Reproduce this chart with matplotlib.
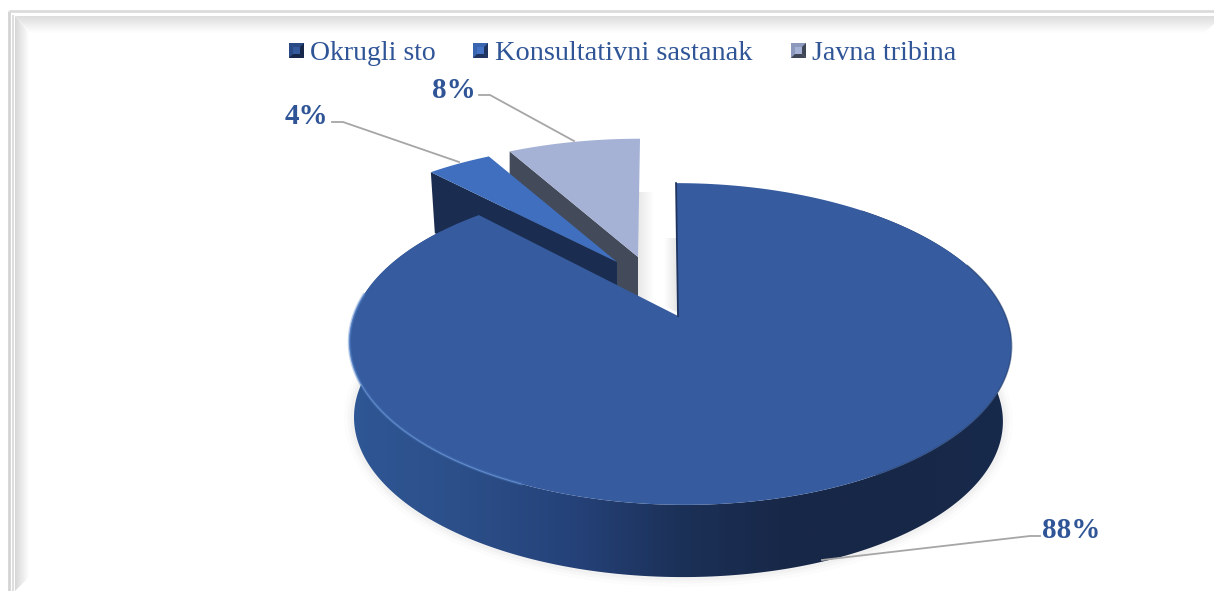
import numpy as np
import matplotlib
import matplotlib.pyplot as plt
from matplotlib.colors import LinearSegmentedColormap
from matplotlib.patches import Polygon, PathPatch, Rectangle
from matplotlib.path import Path

matplotlib.use('Agg')

categories = ['Okrugli sto', 'Konsultativni sastanak', 'Javna tribina']
shares = [88, 4, 8]
labels = ['88%', '4%', '8%']

TEXT = '#2f5597'
MAIN = '#365c9f'
MID = '#3f6fbe'
LIGHT = '#a5b2d6'
FONT = 'Liberation Serif'

# the pie is drawn clockwise from 12 o'clock, seen in perspective
K = 0.174
R_X = 326.0
R_Y = 156.0


def rim(tip, start, end, sx=1.0, sy=1.0, skew=(0.0, 0.0)):
    theta = np.radians(np.linspace(start, end, 300))
    px = np.sin(theta)
    py = -np.cos(theta)
    w = 1 - K * py
    y = sy * R_Y * py / w
    x = sx * R_X * px / w + skew[0] + skew[1] * y
    return np.column_stack((tip[0] + x, tip[1] + y))


def gradient(ax, extent, colors, clip, horizontal=True, zorder=1):
    cmap = LinearSegmentedColormap.from_list('g', colors)
    vals = np.linspace(0, 1, 256)
    vals = vals[None, :] if horizontal else vals[:, None]
    im = ax.imshow(vals, extent=extent, cmap=cmap, aspect='auto',
                   zorder=zorder, interpolation='bilinear', origin='upper')
    im.set_clip_path(Polygon(clip, transform=ax.transData))
    return im


def marker(ax, x, y, color, dark, light):
    s = 15
    ax.add_patch(Rectangle((x, y), s, s, color=color, zorder=6, lw=0))
    ax.add_patch(Polygon([(x, y + s), (x + s, y + s), (x + s - 4, y + s - 4),
                          (x + 4, y + s - 4)], color=dark, zorder=7, lw=0))
    ax.add_patch(Polygon([(x + s, y), (x + s, y + s), (x + s - 4, y + s - 4),
                          (x + s - 4, y + 4)], color=dark, zorder=7, lw=0))
    ax.add_patch(Rectangle((x + 4, y + 4), s - 8, s - 8, color=light,
                           zorder=8, lw=0))


fig = plt.figure(figsize=(12.14, 5.91), dpi=100)
ax = fig.add_axes([0, 0, 1, 1])

# frame
ax.plot([9, 9], [591, 11], color='#d4d4d4', lw=2.0, zorder=1,
        solid_capstyle='butt')
ax.plot([9, 1214], [11, 11], color='#dcdcdc', lw=2.0, zorder=1,
        solid_capstyle='butt')
ax.plot([13, 13], [591, 15], color='#d8d8d8', lw=1.2, zorder=1,
        solid_capstyle='butt')
gradient(ax, (15, 29, 591, 16), ['#d6d6d6', '#ffffff'],
         [(15, 16), (29, 32), (29, 577), (15, 591)])
gradient(ax, (15, 1214, 33, 16), ['#dddddd', '#ffffff'],
         [(15, 16), (1214, 16), (1214, 24), (1204, 33), (31, 33)],
         horizontal=False)

# shadows in the gap between the slices
gradient(ax, (637, 654, 300, 192), ['#e6e6e6', '#ffffff'],
         [(637, 192), (654, 192), (654, 300), (637, 300)])
gradient(ax, (664, 677, 316, 238), ['#ffffff', '#e6e6e6'],
         [(664, 238), (677, 238), (677, 312), (664, 306)])

# small slices, shares[2] behind shares[1]
angle1 = 360 * shares[0] / 100
angle2 = angle1 + 360 * shares[1] / 100

tip3 = (638, 257)
arc3 = rim(tip3, angle2, 360, 0.955, 0.89, (0.0, -0.017))
ax.add_patch(Polygon([arc3[0], tip3, (tip3[0], tip3[1] + 62),
                      (arc3[0][0], arc3[0][1] + 62)], color='#434a5a',
                     zorder=2, lw=0))
ax.add_patch(Polygon(np.vstack((arc3, [tip3])), color=LIGHT, zorder=3, lw=0))

tip2 = (617, 262)
arc2 = rim(tip2, angle1, angle2, 0.94, 0.89)
ax.add_patch(Polygon([arc2[0], tip2, (tip2[0], tip2[1] + 60),
                      (arc2[0][0] + 4, arc2[0][1] + 61)], color='#1a2c50',
                     zorder=4, lw=0))
ax.add_patch(Polygon(np.vstack((arc2, [tip2])), color=MID, zorder=5, lw=0))

# big slice, the wall starts past the cut so it stays behind the top
tip1 = (678, 316)
skew1 = (1.7, 0.0276)
top = rim(tip1, 0, angle1, skew=skew1)
wall_top = rim(tip1, 40, angle1 - 10, skew=skew1)
low = rim((676, 392), 40, angle1 - 10, 0.98, 0.98, skew1)
side = np.vstack((wall_top, low[::-1]))

# soft shadow round the lower edge only
outline = Path(rim((676, 392), 60, 300, 0.98, 0.98, skew1))
for w, a in ((14, 0.02), (9, 0.03), (5, 0.04)):
    ax.add_patch(PathPatch(outline, fill=False, edgecolor='#707070', lw=w,
                           alpha=a, zorder=5))
gradient(ax, (349, 1011, 591, 180),
         ['#2f5795', '#2c4f89', '#25427a', '#1c3158', '#172747', '#172747',
          '#182a4c'], side, zorder=6)
ax.add_patch(Polygon(np.vstack((top, [tip1])), color=MAIN, zorder=7, lw=0))

# lighter bevel on the rim, dark edge on the cut
front = rim(tip1, 205, 278, skew=skew1)
ax.plot(front[:, 0], front[:, 1], color='#4c7cc6', lw=2.4, alpha=0.35,
        zorder=8)
ax.plot(front[:, 0], front[:, 1], color='#6a94d2', lw=1.0, alpha=0.55,
        zorder=8)
right = rim(tip1, 70, 150, skew=skew1)
ax.plot(right[:, 0], right[:, 1], color='#2a4678', lw=1.2, alpha=0.6, zorder=8)
ax.plot([top[0][0], tip1[0]], [top[0][1], tip1[1]], color='#1f3560', lw=1.3,
        zorder=8)

# leader lines
ax.plot([822, 1030, 1040], [560, 536, 536], color='#a6a6a6', lw=1.3, zorder=9)
ax.plot([459, 343, 332], [162, 122, 122], color='#a6a6a6', lw=1.3, zorder=9)
ax.plot([574, 490, 479], [141, 95, 95], color='#a6a6a6', lw=1.3, zorder=9)

# data labels
ax.text(1071.5, 530, labels[0], color=TEXT, fontsize=21, fontweight='bold',
        family=FONT, ha='center', va='center', zorder=10)
ax.text(306, 116, labels[1], color=TEXT, fontsize=21, fontweight='bold',
        family=FONT, ha='center', va='center', zorder=10)
ax.text(453.5, 90, labels[2], color=TEXT, fontsize=21, fontweight='bold',
        family=FONT, ha='center', va='center', zorder=10)

# legend
marker(ax, 289, 43, '#2a4a85', '#16274a', '#345a9c')
marker(ax, 473, 43, '#3a66b0', '#1f3560', '#4472c4')
marker(ax, 791, 43, '#8c99bd', '#3f4656', '#a5b2d6')
ax.text(310, 53, categories[0], color=TEXT, fontsize=20, family=FONT,
        ha='left', va='center')
ax.text(495, 53, categories[1], color=TEXT, fontsize=20.4, family=FONT,
        ha='left', va='center')
ax.text(812, 53, categories[2], color=TEXT, fontsize=20.2, family=FONT,
        ha='left', va='center')

ax.set_xlim(0, 1214)
ax.set_ylim(591, 0)
ax.axis('off')

fig.savefig('out.png', dpi=100, facecolor='white')
plt.close(fig)
